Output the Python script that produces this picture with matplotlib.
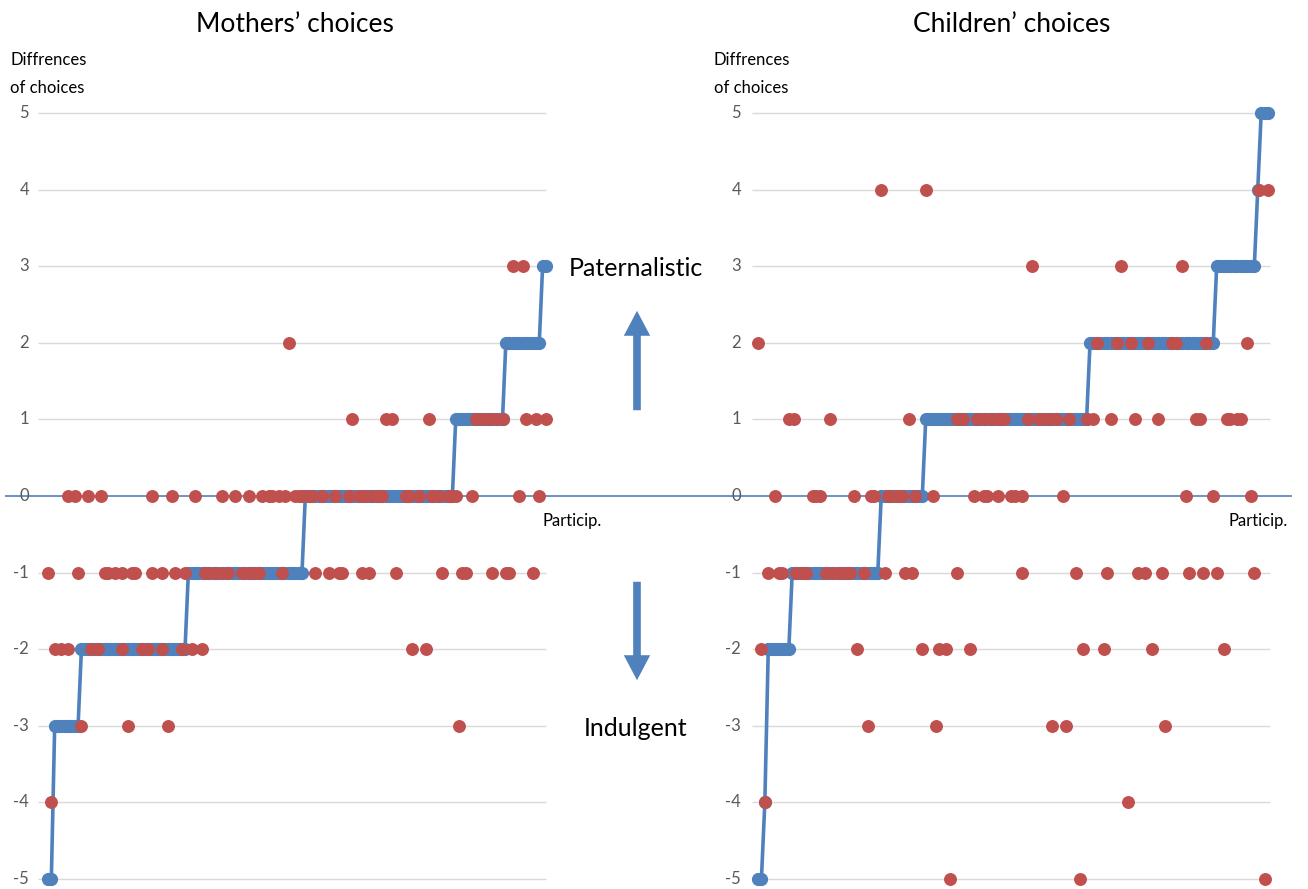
import numpy as np
import matplotlib.pyplot as plt
from matplotlib.patches import FancyArrowPatch

plt.rcParams['font.family'] = ['Lato', 'DejaVu Sans']

W, H = 1308, 889
N = 150  # participants
BLUE = '#4F81BD'
RED = '#C0504D'

y_ticks = list(range(-5, 6))

# sorted differences (blue line): value levels and how many participants at each
mothers_levels = [-5, -3, -2, -1, 0, 1, 2, 3]
mothers_counts = [2, 8, 32, 35, 45, 15, 11, 2]
children_levels = [-5, -4, -2, -1, 0, 1, 2, 3, 4, 5]
children_counts = [2, 1, 7, 26, 13, 48, 37, 12, 1, 3]

# red dots: participant positions per level
mothers_red = {
    3: [139, 142],
    2: [72],
    1: [91, 101, 103, 114, 128, 130, 132, 134, 136, 143, 146, 149],
    0: [6, 8, 12, 16, 31, 37, 44, 52, 56, 60, 64, 66, 67, 69, 71, 74, 75, 76, 78, 79,
        82, 86, 90, 93, 95, 97, 99, 100, 107, 108, 111, 115, 117, 120, 121, 122, 127, 141, 147],
    -1: [0, 9, 17, 18, 20, 22, 25, 26, 31, 34, 38, 41, 47, 48, 50, 52, 54, 58, 60, 62, 63,
         70, 80, 84, 87, 88, 94, 96, 104, 118, 124, 125, 133, 137, 138, 145],
    -2: [2, 4, 6, 13, 15, 22, 28, 30, 34, 40, 43, 46, 109, 113],
    -3: [10, 24, 36, 123],
    -4: [1],
}
children_red = {
    4: [36, 49, 146.5, 149],
    3: [80, 106, 124],
    2: [0, 99, 105, 109, 114, 121, 122, 131, 143],
    1: [9, 10.5, 21, 44, 58, 60, 64, 66, 68, 70, 71, 72, 79, 82, 83, 85, 87, 91, 96, 98,
        103, 110, 117, 128, 129, 137, 138, 140, 141],
    0: [5, 16, 17, 18, 28, 33, 34, 38, 39, 41, 42, 46, 51, 63, 66, 67, 70, 74, 75, 77,
        89, 125, 133, 144],
    -1: [3, 6, 7, 11, 13, 14, 20, 22, 24, 25, 27, 31, 37, 43, 45, 58, 77, 93, 102, 111,
         113, 118, 126, 130, 134, 145],
    -2: [1, 29, 48, 53, 55, 62, 95, 101, 115, 136],
    -3: [32, 52, 86, 90, 119],
    -4: [2, 108],
    -5: [56, 94, 148],
}

# pixel layout of the original picture
Y0, UNIT, TOP = 496, 76.6, 100


def draw_panel(levels, counts, red, x0, step, left_px, right_px, grid_px, label_px, particip_px):
    ax = fig.add_axes([left_px / W, 0, (right_px - left_px) / W, (H - TOP) / H])
    ax.set_xlim((left_px - x0) / step, (right_px - x0) / step)
    ax.set_ylim((Y0 - H) / UNIT, (Y0 - TOP) / UNIT)
    ax.axis('off')

    g0, g1 = (grid_px[0] - x0) / step, (grid_px[1] - x0) / step
    ax.hlines([t for t in y_ticks if t != 0], g0, g1, color='#D9D9D9', lw=1, zorder=1)
    ax.axhline(0, color=BLUE, lw=1.2, zorder=2)
    for t in y_ticks:
        ax.text((label_px - x0) / step, t, str(t), ha='right', va='center',
                fontsize=12, color='#595959')

    blue = np.repeat(levels, counts)
    ax.plot(np.arange(N), blue, color=BLUE, lw=2.6, marker='o', ms=8.5,
            zorder=3, clip_on=False)
    for lvl, xs in red.items():
        ax.plot(xs, [lvl] * len(xs), 'o', color=RED, ms=8.3, zorder=4, clip_on=False)

    ax.text((particip_px - x0) / step, -0.33, 'Particip.', ha='left', va='center', fontsize=12)
    return ax


fig = plt.figure(figsize=(W / 100, H / 100), dpi=100)

draw_panel(mothers_levels, mothers_counts, mothers_red,
           48, 3.342, 5, 700, (38, 546), 29, 543)
draw_panel(children_levels, children_counts, children_red,
           758, 3.423, 700, 1292, (752, 1270), 741, 1228)

# titles and axis captions
fig.text(295 / W, 1 - 25 / H, 'Mothers’ choices', ha='center', va='center', fontsize=19)
fig.text(1012 / W, 1 - 25 / H, 'Children’ choices', ha='center', va='center', fontsize=19)
for x in (10, 714):
    fig.text(x / W, 1 - 74 / H, 'Diffrences\nof choices', ha='left', va='center',
             fontsize=12, linespacing=1.9)

fig.text(636 / W, 1 - 268 / H, 'Paternalistic', ha='center', va='center', fontsize=18)
fig.text(636 / W, 1 - 728 / H, 'Indulgent', ha='center', va='center', fontsize=18)

for tail, tip in ((413, 308), (579, 683)):
    arrow = FancyArrowPatch((637 / W, 1 - tail / H), (637 / W, 1 - tip / H),
                            transform=fig.transFigure,
                            arrowstyle='simple,head_length=18,head_width=19,tail_width=5.5',
                            mutation_scale=1, color=BLUE, lw=0)
    fig.add_artist(arrow)

fig.savefig('out.png', dpi=100)
